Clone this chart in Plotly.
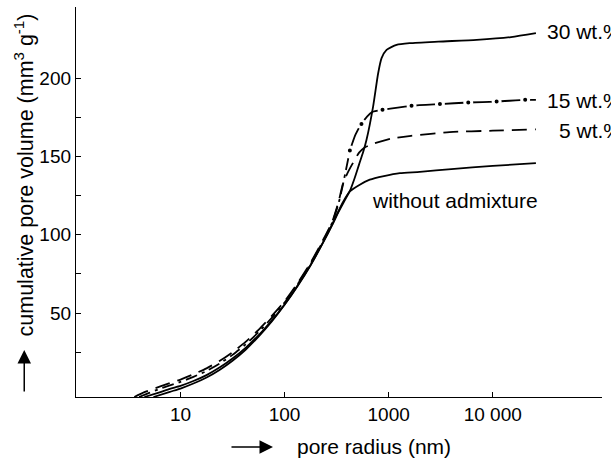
import plotly.graph_objects as go

# ---- data ----
x_without = [4.5, 6.3, 7.9, 10, 13.3, 17.8, 23.7, 31.6, 42.2, 56.2, 75, 100, 133, 178, 237, 288, 330, 365, 424, 528, 659, 900, 1282, 1995, 4000, 10000, 26000]
y_without = [-3.6, -0.6, 1.6, 3.5, 6.6, 10.4, 15.2, 21, 27.8, 35.8, 45, 55.5, 67.4, 80.8, 95.8, 106.9, 115.2, 121, 127.7, 132, 135.2, 137.5, 139.4, 140.2, 142, 144, 145.8]

x_30 = [5.5, 7.9, 10, 13.3, 17.8, 23.7, 31.6, 42.2, 56.2, 75, 100, 133, 178, 237, 288, 330, 370, 424, 470, 520, 570, 613, 709, 793, 855, 955, 1192, 1600, 3000, 7010, 15000, 26000]
y_30 = [-3.6, -0.3, 1.8, 5.0, 8.9, 13.7, 19.6, 26.6, 35, 44.5, 55.3, 67.2, 80.6, 95.6, 106.5, 114.6, 120.8, 128, 136, 145, 153, 160.7, 181.9, 203.2, 212.8, 218.1, 221.3, 222.4, 223.4, 224.5, 226.3, 228.8]

x_5 = [3.6, 4.5, 6.3, 7.9, 10, 13.3, 17.8, 23.7, 31.6, 42.2, 56.2, 75, 100, 133, 178, 237, 288, 330, 365, 410, 455, 520, 580, 700, 1067, 1640, 3850, 10000, 26000]
y_5 = [-3.6, -0.5, 3, 5.3, 7.5, 10.9, 14.7, 19.4, 25, 31.6, 39.3, 48, 57.5, 69, 82.2, 97.3, 108.6, 121, 133, 140.5, 146, 152.5, 155.5, 158, 161.5, 163.2, 165.6, 166.5, 167.3]

x_15 = [4.0, 5, 6.3, 7.9, 10, 13.3, 17.8, 23.7, 31.6, 42.2, 56.2, 75, 100, 133, 178, 237, 288, 333, 361, 424, 480, 548, 620, 700, 873, 1660, 3110, 5820, 10900, 20500, 26000]
y_15 = [-3.6, -1, 1.6, 3.8, 6, 9.3, 13, 17.7, 23.3, 30, 37.8, 46.8, 56.7, 68.3, 81.6, 96.6, 108, 121, 131, 153.8, 164, 170.7, 175.5, 178.5, 179.8, 182.4, 183.5, 184.5, 185.1, 186.2, 186.2]

x_15_dots = [424, 548, 873, 1660, 3110, 5820, 10900, 20500]
y_15_dots = [153.8, 170.7, 179.8, 182.4, 183.5, 184.5, 185.1, 186.2]

x_tickvals = [10, 100, 1000, 10000]
x_ticktext = ["10", "100", "1000", "10 000"]
y_tickvals = [50, 100, 150, 200]
y_minor = [25, 75, 125, 175]

FONT = "Liberation Sans, Arial, sans-serif"
LW = 1.8
SPL = dict(shape="spline", smoothing=0.6)

# split of the 15 wt.% curve: dash-dot before the first dot, solid segments between dots after
split = x_15.index(x_15_dots[0])

fig = go.Figure()
fig.add_trace(go.Scatter(x=x_without, y=y_without, mode="lines",
                         line=dict(color="black", width=LW, **SPL)))
fig.add_trace(go.Scatter(x=x_30, y=y_30, mode="lines",
                         line=dict(color="black", width=LW, **SPL)))
fig.add_trace(go.Scatter(x=x_5, y=y_5, mode="lines",
                         line=dict(color="black", width=LW, dash="15px,8px", **SPL)))
fig.add_trace(go.Scatter(x=x_15[:split + 1], y=y_15[:split + 1], mode="lines",
                         line=dict(color="black", width=LW, dash="12px,5px,3px,5px", **SPL)))
fig.add_trace(go.Scatter(x=x_15[split:], y=y_15[split:], mode="lines",
                         line=dict(color="black", width=LW, **SPL)))
fig.add_trace(go.Scatter(x=x_15_dots, y=y_15_dots, mode="markers",
                         marker=dict(color="black", size=7, line=dict(color="white", width=3))))

annos = [
    dict(text="30 wt.%", x=0.8916, y=0.936),
    dict(text="15 wt.%", x=0.8916, y=0.7615),
    dict(text="5 wt.%", x=0.9144, y=0.6846),
    dict(text="without admixture", x=0.559, y=0.505),
    dict(text="pore radius (nm)", x=0.4163, y=-0.126),
]
for a in annos:
    fig.add_annotation(xref="paper", yref="paper", x=a["x"], y=a["y"], text=a["text"],
                       showarrow=False, xanchor="left", yanchor="middle",
                       font=dict(family=FONT, size=21, color="black"))

fig.add_annotation(xref="paper", yref="paper", x=-0.098, y=0.5692,
                   text="cumulative pore volume (mm<sup>3</sup> g<sup>-1</sup>)",
                   textangle=-90, showarrow=False, xanchor="center", yanchor="middle",
                   font=dict(family=FONT, size=21.5, color="black"))

# arrows
fig.add_annotation(xref="paper", yref="paper", x=-0.0984, y=0.1205, ax=0, ay=43,
                   text="", showarrow=True, arrowhead=2, arrowsize=1.8, arrowwidth=1.5,
                   arrowcolor="black")
fig.add_annotation(xref="paper", yref="paper", x=0.3745, y=-0.128, ax=-43, ay=0,
                   text="", showarrow=True, arrowhead=2, arrowsize=1.8, arrowwidth=1.5,
                   arrowcolor="black")

fig.update_layout(
    width=611, height=459,
    margin=dict(l=76, r=9, t=7, b=62),
    paper_bgcolor="white", plot_bgcolor="white",
    showlegend=False,
    font=dict(family=FONT, size=19, color="black"),
    xaxis=dict(type="log", range=[-0.004, 5.05], showgrid=False, zeroline=False,
               showline=True, linecolor="black", linewidth=1.3,
               ticks="inside", ticklen=5, tickwidth=1.3, tickcolor="black",
               tickvals=x_tickvals, ticktext=x_ticktext,
               tickfont=dict(family=FONT, size=19, color="black")),
    yaxis=dict(range=[-3.6, 245.5], showgrid=False, zeroline=False,
               showline=True, linecolor="black", linewidth=1.3,
               ticks="inside", ticklen=5, tickwidth=1.3, tickcolor="black",
               tickvals=y_tickvals,
               minor=dict(tickvals=y_minor, ticks="inside", ticklen=5, tickwidth=1.3,
                          tickcolor="black", showgrid=False),
               tickfont=dict(family=FONT, size=19, color="black")),
)

fig.write_html("out.html")
